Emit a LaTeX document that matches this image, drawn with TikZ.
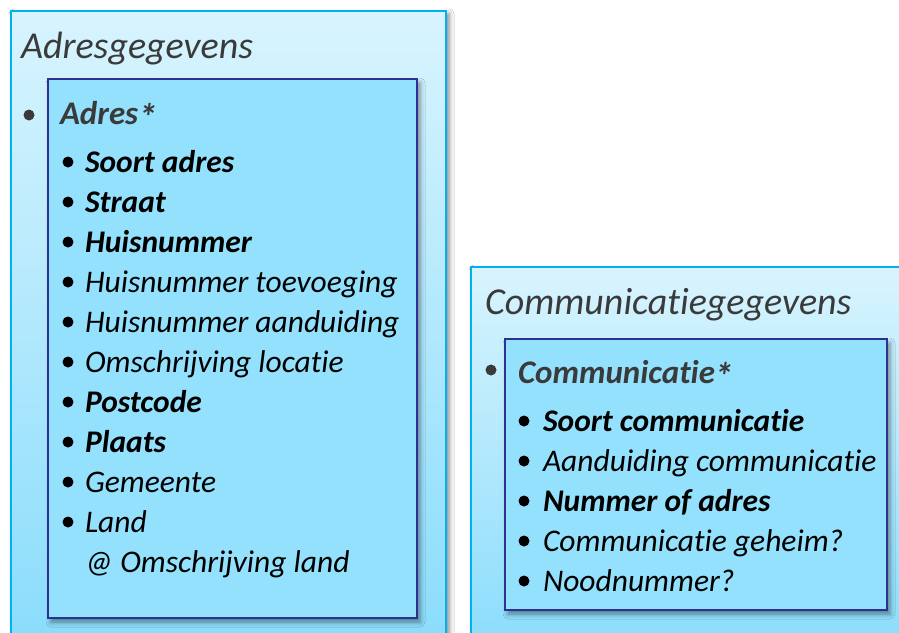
\documentclass[tikz,border=0pt]{standalone}
\usepackage{fontspec}
\setmainfont{Carlito}[Ligatures={NoCommon,NoContextual}]
\usetikzlibrary{shadows.blur}
\definecolor{outerborder}{HTML}{00B0F0}
\definecolor{outertop}{HTML}{D8F4FE}
\definecolor{outerbot}{HTML}{88DCFC}
\definecolor{innerfill}{HTML}{93E1FD}
\definecolor{innerborder}{HTML}{2E3192}
\definecolor{headgray}{HTML}{3A3A3A}
\newcommand{\bigast}{\raisebox{-6pt}{\fontsize{38}{38}\selectfont*}}
\begin{document}
\begin{tikzpicture}[x=1pt,y=-1pt,
  outerbox/.style={draw=outerborder, line width=2.6pt, top color=outertop, bottom color=outerbot,
    blur shadow={shadow xshift=3pt, shadow yshift=-3pt, shadow blur radius=5pt, shadow opacity=50}},
  innerbox/.style={draw=innerborder, line width=2.8pt, fill=innerfill,
    blur shadow={shadow xshift=3pt, shadow yshift=-4pt, shadow blur radius=5pt, shadow opacity=45}},
  txt/.style={anchor=base west, inner sep=0pt, outer sep=0pt},
  heading/.style={txt, text=headgray, font=\fontsize{38}{44}\selectfont\itshape},
  subhead/.style={txt, text=headgray, font=\fontsize{33}{40}\selectfont\bfseries\itshape},
  item/.style={txt, text=black, font=\fontsize{31.5}{37}\selectfont\itshape},
  bitem/.style={txt, text=black, font=\fontsize{31.5}{37}\selectfont\bfseries\itshape},
  dot/.style={circle, fill=#1, inner sep=0pt, minimum size=11pt},
]
\useasboundingbox (0,0) rectangle (899,632);
\clip (0,0) rectangle (899,632);
\fill[white] (0,0) rectangle (899,632);

% ---------- left block ----------
\path[outerbox] (11,11) rectangle (446,660);
\node[heading] (adresgeg) at (21,58) {Adresgegevens};
\node[dot=headgray] (b0) at (29,115) {};
\path[innerbox] (48,79) rectangle (417,618);
\node[subhead] (adres) at (60,124) {Adres\bigast};

\foreach \y/\t/\s [count=\i] in {
  172/Soort adres/bitem,
  212/Straat/bitem,
  252/Huisnummer/bitem,
  292/Huisnummer toevoeging/item,
  332/Huisnummer aanduiding/item,
  372/Omschrijving locatie/item,
  412/Postcode/bitem,
  452/Plaats/bitem,
  492/Gemeente/item,
  532/Land/item}{
  \node[dot=black] (lb\i) at (68,\y-10) {};
  \node[\s] (lt\i) at (85,\y) {\t};
}
\node[item] (land2) at (85,572) {@ Omschrijving land};

% ---------- right block ----------
\path[outerbox] (471,267) rectangle (930,660);
\node[heading] (commgeg) at (485,314) {Communicatiegegevens};
\node[dot=headgray] (b1) at (491,370) {};
\path[innerbox] (505,339) rectangle (887,610);
\node[subhead] (comm) at (518,383) {Communicatie\bigast};

\foreach \y/\t/\s [count=\i] in {
  431/Soort communicatie/bitem,
  471/Aanduiding communicatie/item,
  511/Nummer of adres/bitem,
  551/Communicatie geheim?/item,
  591/Noodnummer?/item}{
  \node[dot=black] (rb\i) at (524,\y-10) {};
  \node[\s] (rt\i) at (543,\y) {\t};
}
\end{tikzpicture}
\end{document}
